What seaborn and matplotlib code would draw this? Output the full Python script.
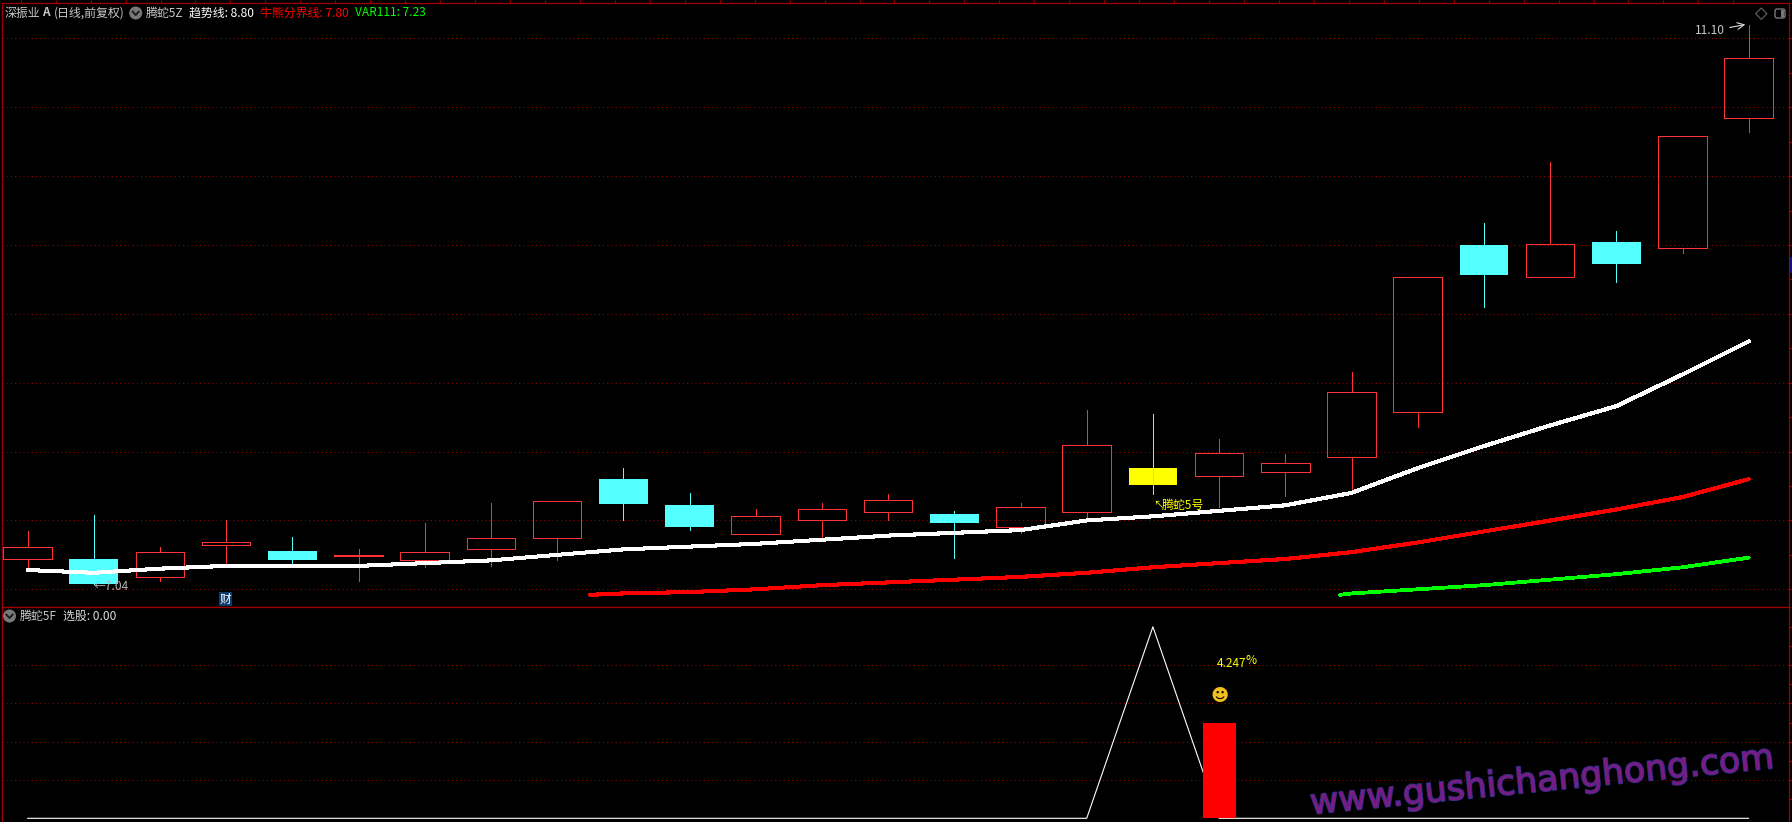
import numpy as np
import pandas as pd
import matplotlib
matplotlib.use("Agg")
import matplotlib.pyplot as plt
from matplotlib.patches import Rectangle, Circle, FancyBboxPatch, Polygon
from matplotlib.ticker import FixedLocator
import matplotlib.patheffects as pe
import seaborn as sns

# ---- data ----
highs = [7.42,7.54,7.31,7.50,7.38,7.29,7.48,7.63,7.64,7.88,7.70,7.58,7.63,7.69,7.57,7.63,8.30,8.27,8.09,7.98,8.58,9.27,9.66,10.10,9.60,10.29,11.10]
lows = [7.16,7.04,7.06,7.19,7.19,7.06,7.16,7.17,7.21,7.50,7.43,7.40,7.37,7.50,7.23,7.41,7.51,7.69,7.60,7.68,7.72,8.18,9.05,9.27,9.23,9.44,10.32]
body_tops = [7.31,7.22,7.27,7.34,7.28,7.25,7.27,7.37,7.64,7.80,7.61,7.53,7.58,7.65,7.55,7.60,8.05,7.88,7.99,7.92,8.43,9.27,9.50,9.51,9.52,10.29,10.86]
body_bottoms = [7.22,7.04,7.09,7.32,7.21,7.24,7.21,7.29,7.37,7.62,7.45,7.40,7.50,7.56,7.48,7.45,7.56,7.76,7.82,7.85,7.96,8.29,9.28,9.27,9.36,9.48,10.42]
kinds = ["u","d","u","u","d","u","u","u","u","d","d","u","u","u","d","u","u","s","u","u","u","u","d","u","d","u","u"]

trend = [7.14,7.12,7.15,7.17,7.17,7.17,7.19,7.21,7.25,7.29,7.31,7.33,7.36,7.39,7.41,7.43,7.50,7.53,7.57,7.61,7.70,7.88,8.04,8.19,8.33,8.56,8.80]
bull_x = [8.5] + list(range(9, 27))
bull = [6.96,6.97,6.98,7.00,7.03,7.05,7.07,7.09,7.12,7.16,7.19,7.22,7.27,7.34,7.42,7.50,7.58,7.67,7.80]
var_x = [19.83] + list(range(20, 27))
var111 = [6.96,6.97,7.00,7.03,7.07,7.11,7.16,7.23]

signal = [0]*17 + [5, 0] + [0]*8
bar_day = [18]
bar_value = [2.5]

W, H = 1792, 822
RED_C, CYAN, YEL = "#ff3232", "#54ffff", "#ffff00"
FRAME, GRID = "#a00000", "#a00000"

sns.set_theme(style="dark", rc={"axes.facecolor": "black", "figure.facecolor": "black"})
plt.rcParams["font.family"] = ["Noto Sans CJK SC", "DejaVu Sans"]

fig = plt.figure(figsize=(W/100, H/100), dpi=100, facecolor="black")
L, R, T, S = 1.5, 1789.3, 3.3, 607.3
ax = fig.add_axes([L/W, 1-S/H, (R-L)/W, (S-T)/H], facecolor="black")
ax2 = fig.add_axes([L/W, 0, (R-L)/W, (H-S)/H], facecolor="black")
xlim = ((L-27.5)/66.2, (R-27.5)/66.2)

days = np.arange(len(highs))
bw = 48.5/66.2
THIN = 0.72
for i in days:
    col = {"u": RED_C, "d": CYAN, "s": CYAN}[kinds[i]]
    if kinds[i] == "u":
        ax.vlines(i, body_tops[i], highs[i], color=col, lw=THIN, antialiased=False, zorder=3)
        ax.vlines(i, lows[i], body_bottoms[i], color=col, lw=THIN, antialiased=False, zorder=3)
        ax.add_patch(Rectangle((i-bw/2, body_bottoms[i]), bw, body_tops[i]-body_bottoms[i],
                               fill=False, ec=col, lw=THIN, antialiased=False, zorder=3))
    else:
        face = YEL if kinds[i] == "s" else CYAN
        ax.add_patch(Rectangle((i-bw/2, body_bottoms[i]), bw, body_tops[i]-body_bottoms[i],
                               fc=face, ec="none", zorder=3))
        ax.vlines(i, lows[i], highs[i], color=col, lw=THIN, antialiased=False, zorder=4)

def line(axis, xs, ys, color, lw, aa=False):
    sns.lineplot(x=xs, y=ys, ax=axis, color=color, lw=lw, estimator=None, sort=False,
                 legend=False, zorder=5, antialiased=aa)

line(ax, days, trend, "#ffffff", 2.2)
line(ax, bull_x, bull, "#ff0000", 2.2)
line(ax, var_x, var111, "#00ff00", 2.0)

ax.set_xlim(*xlim)
ax.set_ylim(7-18/137.7, 7+586/137.7)
ax2.set_xlim(*xlim)
ax2.set_ylim(-3.7/38.3, 211/38.3)

line(ax2, days, signal, "#ffffff", 0.8, aa=True)
ax2.bar(bar_day, bar_value, width=0.5, color="#ff0000", edgecolor="none", linewidth=0, zorder=6)

top_ticks = (1733.3 - 34.95*np.arange(0, 50) - 27.5)/66.2
ax.set_yticks(np.arange(7, 11.5, 0.5))
ax.yaxis.set_minor_locator(FixedLocator(np.arange(7.25, 11.25, 0.5)))
ax2.set_yticks([1, 2, 3, 4])
ax2.yaxis.set_minor_locator(FixedLocator([0.5, 1.5, 2.5, 3.5, 4.5, 5.0]))
for a in (ax, ax2):
    a.yaxis.tick_right()
    a.grid(axis="y", which="major", color=GRID, lw=0.72, ls=(0, (1, 3.2)), zorder=1)
    a.grid(axis="x", visible=False)
    a.tick_params(axis="y", which="both", colors=FRAME, length=2.2, width=0.8, direction="out",
                  labelright=False, right=True, left=False)
    a.set_xlabel(""); a.set_ylabel("")
    a.set_xticks([])
    for sp in a.spines.values():
        sp.set_color(FRAME); sp.set_linewidth(0.9); sp.set_visible(True)
ax2.spines["bottom"].set_visible(False)
ax.set_xticks(top_ticks[(top_ticks > xlim[0]) & (top_ticks < xlim[1])])
ax.xaxis.tick_top()
ax.tick_params(axis="x", colors=FRAME, length=2.2, width=0.8, labeltop=False, top=True, bottom=False)

# overlay in picture pixels for labels and small icons
ov = fig.add_axes([0, 0, 1, 1], facecolor="none", zorder=10)
ov.set_xlim(0, W); ov.set_ylim(H, 0); ov.axis("off")

def label(x, y, s, color="#c8c8c8", size=8.6, **kw):
    kw.setdefault("va", "center"); kw.setdefault("ha", "left")
    ov.text(x, y, s, color=color, fontsize=size, **kw)

def icon(x, y):
    ov.add_patch(Circle((x, y), 6.5, fc="#787878", ec="none"))
    ov.plot([x-3.2, x, x+3.2], [y-1.5, y+2, y-1.5], color="#1e1e1e", lw=1.4)

label(5, 13, "深振业")
label(42, 13, "A", size=8.5, fontweight="bold")
label(54, 13, "(日线,前复权)")
icon(135.7, 13)
label(146, 13, "腾蛇5Z")
label(189, 13, "趋势线: 8.80", color="#ffffff")
label(260, 13, "牛熊分界线: 7.80", color="#ff0000")
label(355, 13, "VAR111: 7.23", color="#00ff00")

icon(9.5, 616)
label(20, 616, "腾蛇5F")
label(63, 616, "选股: 0.00", color="#dcdcdc")

label(94, 586, "←7.04", color="#b4b4b4")
label(1694.5, 30, "11.10", color="#c8c8c8")
ov.annotate("", xy=(1748, 24), xytext=(1727, 28),
            arrowprops=dict(arrowstyle="->", color="#dcdcdc", lw=0.8))

ov.add_patch(Rectangle((219, 592), 13, 14, fc="#0a3c6e", ec="none"))
ov.text(225.5, 599, "财", color="#ffffff", fontsize=8.4, ha="center", va="center")

label(1153, 505, "↖", color=YEL, size=7.5)
label(1161.5, 505, "腾蛇5号", color=YEL, size=8.6)
label(1217, 663, "4.247", color=YEL, size=8.6)
label(1246, 660, "%", color=YEL, size=8.6)
ov.text(1220, 696, "☻", color="#f0c020", fontsize=12.5, ha="center", va="center", family="DejaVu Sans")

ov.add_patch(Polygon([(1761.3, 8), (1767, 13.7), (1761.3, 19.4), (1755.6, 13.7)],
                     closed=True, fill=False, ec="#646464", lw=0.8))
ov.add_patch(FancyBboxPatch((1775, 9), 10, 9, boxstyle="round,pad=0,rounding_size=2",
                            fc="none", ec="#787878", lw=1.0))
ov.add_patch(Rectangle((1780.5, 10), 3.5, 7, fc="#787878", ec="none"))
ov.add_patch(Rectangle((1790, 257), 2, 16, fc="#12127a", ec="none"))

ov.text(1542, 781, "www.gushichanghong.com", color="#7d1a84", fontsize=25,
        ha="center", va="center", rotation=5.7, rotation_mode="anchor", family="DejaVu Sans",
        path_effects=[pe.withStroke(linewidth=1.4, foreground="#35308c")], alpha=0.95)

fig.savefig("out.png", dpi=100, facecolor="black")
